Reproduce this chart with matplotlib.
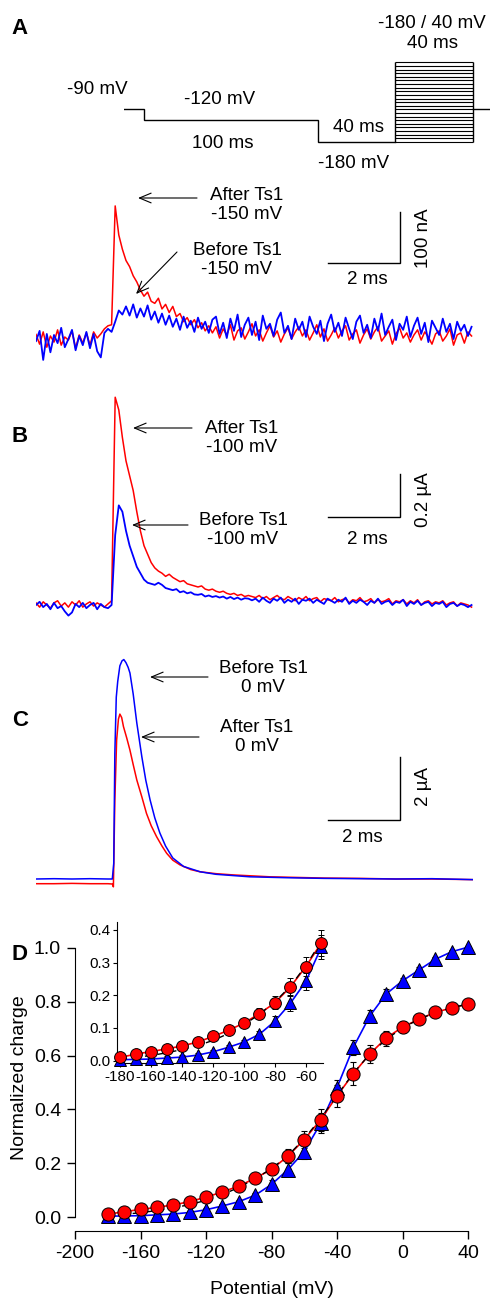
import numpy as np
import matplotlib
matplotlib.use("Agg")
import matplotlib.pyplot as plt

plt.rcParams['font.family'] = ['Liberation Sans', 'DejaVu Sans']
plt.rcParams['axes.unicode_minus'] = False

# ---------------- data ----------------
# Panel A protocol (schematic time units, mV)
proto_t = [0, 11.5, 111.5, 156, 201, 211]
proto_v = [-90, -120, -180]
test_levels = list(range(-180, 41, 10))
hold_v = -90

# Panel A traces (nA), sampled every 0.1 ms
dtA = 0.1
A_after = [5, -14, 10, -20, 2, -10, 14, -16, 0, -6, 12, -22, 4, -12, 8, -16, 10, -2, 6, 16, 22, 24,
           257, 200, 172, 150, 138, 120, 108, 92, 80, 88, 70, 66, 76, 55, 64, 48, 60, 40, 46, 30, 38, 24,
           34, 18, 28, 12, 22, 8,
           20, -2, 16, 4, 24, -6, 12, 18, -4, 10, 26, 2, 14, -8, 8, 22, 0, 12, -10, 6, 18, -4, 10, 20,
           2, 14, -6, 8, 24, 0, 16, -8, 4, 18, -2, 12, 22, -6, 6, 14, -12, 4, 16, -4, 10, 20, -8, 2,
           12, -14, 6, 18, -2, 8, -10, 4, 14, -6, 10, 0, -14, 6, 12, -8, 2, 16, -16, 4, 8, -12, 10, 2]
A_before = [-8, 12, -45, 6, -30, 4, -12, 18, -20, -4, 14, -26, 2, -16, 10, -22, 6, -28, -40, 8, 16, 10,
            30, 52, 44, 60, 42, 64, 38, 56, 40, 62, 34, 50, 28, 46, 24, 42, 20, 36, 14, 40, 18, 32,
            10, 38, 16, 30, 8, 34,
            40, 6, 28, -2, 36, 12, 44, 0, 24, 38, 4, 30, -6, 42, 16, 26, 2, 34, 48, 8, 22, -4, 36, 14,
            30, 0, 40, 20, 6, 32, -8, 26, 44, 10, 28, 2, 38, 16, -4, 30, 42, 8, 24, -2, 36, 12, 46, 4,
            20, 34, -6, 26, 14, 40, 0, 22, 38, 6, 28, -10, 32, 18, 4, 36, 10, 26, -4, 30, 12, 24, 2, 20]

# Panel B traces (uA), sampled every 0.1 ms
dtB = 0.1
B_after = [0.01, -0.01, 0.015, 0.0, -0.015, 0.01, 0.02, -0.005, 0.01, -0.01, 0.015, 0.0, 0.02, -0.01,
           0.005, 0.015, -0.005, 0.01, 0.0, -0.01, 0.005, 0.02,
           0.98, 0.92, 0.79, 0.68, 0.61, 0.54, 0.44, 0.35, 0.28, 0.24, 0.20, 0.175, 0.16, 0.15, 0.135,
           0.145, 0.13, 0.12, 0.11, 0.115, 0.10, 0.095, 0.09, 0.085, 0.09, 0.075, 0.07, 0.075, 0.065,
           0.06, 0.065, 0.055, 0.05, 0.055, 0.045, 0.05, 0.04, 0.045, 0.04,
           0.035, 0.045, 0.03, 0.04, 0.025, 0.035, 0.045, 0.03, 0.025, 0.04, 0.03, 0.02, 0.035, 0.025,
           0.04, 0.02, 0.03, 0.035, 0.015, 0.03, 0.025, 0.02, 0.035, 0.015, 0.025, 0.03, 0.01, 0.025,
           0.02, 0.035, 0.015, 0.02, 0.03, 0.01, 0.025, 0.015, 0.02, 0.03, 0.005, 0.02, 0.015, 0.025,
           0.005, 0.02, 0.01, 0.025, 0.0, 0.015, 0.02, 0.005, 0.015, 0.01, 0.02, 0.0, 0.01, 0.015,
           -0.005, 0.01, 0.005, 0.0, -0.01]
B_before = [0.0, 0.015, -0.01, 0.005, -0.02, 0.01, -0.015, -0.005, -0.03, -0.05, -0.035, 0.005, -0.01,
            0.01, -0.015, 0.0, 0.01, -0.02, 0.005, -0.01, -0.015, 0.0,
            0.33, 0.47, 0.44, 0.35, 0.28, 0.23, 0.18, 0.15, 0.12, 0.105, 0.10, 0.095, 0.105, 0.095, 0.08,
            0.075, 0.07, 0.075, 0.06, 0.065, 0.055, 0.06, 0.05, 0.048, 0.052, 0.04, 0.045, 0.038, 0.042,
            0.035, 0.04, 0.03, 0.038, 0.028, 0.035, 0.025, 0.032, 0.03, 0.022,
            0.03, 0.015, 0.035, 0.02, 0.01, 0.03, 0.02, 0.035, 0.01, 0.025, 0.015, 0.03, 0.005, 0.025,
            0.02, 0.03, 0.01, 0.025, 0.015, 0.005, 0.03, 0.02, 0.01, 0.025, 0.015, 0.035, 0.005, 0.02,
            0.01, 0.025, 0.015, 0.0, 0.02, 0.01, 0.03, 0.005, 0.015, 0.02, 0.0, 0.015, 0.01, 0.025,
            -0.005, 0.015, 0.005, 0.02, 0.0, 0.01, 0.015, -0.005, 0.01, 0.005, 0.015, -0.01, 0.005,
            0.01, -0.005, 0.005, 0.0, -0.01, 0.0]

# Panel C traces (uA)
C_before_t = [0, 0.5, 1.0, 1.5, 2.0, 2.12, 2.16, 2.19, 2.23, 2.27, 2.33, 2.39, 2.44, 2.5, 2.56, 2.61,
              2.7, 2.8, 2.94, 3.05, 3.17, 3.3, 3.44, 3.6, 3.8, 4.1, 4.56, 5.0, 5.94, 7.0, 8.0, 9.0,
              10.0, 11.0, 12.14]
C_before = [0.0, 0.01, 0.0, 0.01, 0.0, 0.0, 0.5, 4.0, 5.8, 6.3, 6.8, 6.96, 7.0, 6.9, 6.75, 6.57,
            5.9, 4.98, 3.9, 3.15, 2.52, 1.95, 1.47, 1.05, 0.67, 0.4, 0.23, 0.15, 0.07, 0.04, 0.02,
            0.01, 0.0, 0.01, -0.02]
C_after_t = [0, 0.5, 1.0, 1.5, 2.0, 2.12, 2.15, 2.19, 2.24, 2.29, 2.33, 2.38, 2.43, 2.52, 2.61, 2.7,
             2.8, 2.94, 3.07, 3.2, 3.35, 3.5, 3.63, 3.8, 4.0, 4.3, 4.56, 5.0, 5.48, 6.5, 8.0, 9.0,
             10.0, 11.0, 12.14]
C_after = [-0.15, -0.15, -0.14, -0.15, -0.15, -0.16, -0.25, 2.5, 4.43, 5.1, 5.26, 5.15, 4.86, 4.5,
           4.11, 3.65, 3.16, 2.62, 2.09, 1.7, 1.35, 1.05, 0.82, 0.6, 0.45, 0.3, 0.23, 0.17, 0.13,
           0.07, 0.03, 0.02, 0.0, 0.0, -0.02]

# Panel D: normalized charge vs potential
potential = list(range(-180, 41, 10))
q_after = [0.010, 0.020, 0.028, 0.036, 0.045, 0.057, 0.074, 0.093, 0.115, 0.144, 0.177, 0.226,
           0.288, 0.361, 0.450, 0.533, 0.606, 0.665, 0.706, 0.735, 0.761, 0.777, 0.791]
q_after_err = [0.006, 0.006, 0.006, 0.006, 0.007, 0.007, 0.008, 0.010, 0.012, 0.018, 0.020, 0.027,
               0.030, 0.040, 0.040, 0.043, 0.034, 0.028, 0.022, 0.015, 0.010, 0.010, 0.008]
q_before = [0.003, 0.004, 0.005, 0.008, 0.011, 0.017, 0.027, 0.041, 0.057, 0.081, 0.121, 0.176,
            0.243, 0.348, 0.481, 0.631, 0.747, 0.829, 0.878, 0.918, 0.958, 0.986, 1.003]
q_before_err = [0.004, 0.004, 0.004, 0.005, 0.005, 0.005, 0.006, 0.006, 0.006, 0.010, 0.017, 0.025,
                0.026, 0.037, 0.030, 0.028, 0.022, 0.018, 0.012, 0.010, 0.008, 0.006, 0.005]
q_fit = [0.005, 0.010, 0.016, 0.024, 0.034, 0.046, 0.062, 0.083, 0.110, 0.142, 0.180, 0.228,
         0.291, 0.366, 0.452, 0.535, 0.605, 0.660, 0.703, 0.735, 0.760, 0.778, 0.792]
inset_max_potential = -50

# ---------------- figure ----------------
W, H = 490, 1303
fig = plt.figure(figsize=(W / 100, H / 100), dpi=100)

RED = '#ff0000'
BLUE = '#0000ff'
FS = 13.5


def px_axes(x0, x1, y0, y1):
    return fig.add_axes([x0 / W, 1 - y1 / H, (x1 - x0) / W, (y1 - y0) / H])


def ftext(x, y, s, **kw):
    kw.setdefault('ha', 'center')
    kw.setdefault('va', 'center')
    kw.setdefault('fontsize', FS)
    fig.text(x / W, 1 - y / H, s, **kw)


def arrow(x0, y0, x1, y1):
    fig.add_artist(matplotlib.patches.FancyArrowPatch(
        (x0 / W, 1 - y0 / H), (x1 / W, 1 - y1 / H), transform=fig.transFigure,
        arrowstyle='->,head_length=0.6,head_width=0.25', mutation_scale=14, lw=0.8,
        color='k', shrinkA=0, shrinkB=0))


# ---- Panel A protocol ----
axP = px_axes(124, 490, 55, 150)
axP.set_xlim(0, 210.7)
axP.set_ylim(-203, 60.8)
axP.axis('off')
step_x = [proto_t[0], proto_t[1], proto_t[1], proto_t[2], proto_t[2], proto_t[3]]
step_y = [proto_v[0], proto_v[0], proto_v[1], proto_v[1], proto_v[2], proto_v[2]]
axP.plot(step_x, step_y, color='k', lw=1.0, solid_joinstyle='miter')
axP.hlines(test_levels, proto_t[3], proto_t[4], color='k', lw=0.8)
axP.vlines([proto_t[3], proto_t[4]], min(test_levels), max(test_levels), color='k', lw=1.0)
axP.plot([proto_t[4], proto_t[5]], [hold_v, hold_v], color='k', lw=1.0)

ftext(20, 28, 'A', fontsize=16, fontweight='bold')
ftext(97, 90, '-90 mV')
ftext(220, 99, '-120 mV')
ftext(223, 143, '100 ms')
ftext(358, 127, '40 ms')
ftext(354, 164, '-180 mV')
ftext(432, 23, '-180 / 40 mV')
ftext(432, 44, '40 ms')


def trace_axes(y0, y1, base, scale):
    ax = px_axes(36, 473, y0, y1)
    ax.set_xlim(0, 12.14)
    ax.set_ylim(-(y1 - base) / scale, (base - y0) / scale)
    ax.axis('off')
    return ax


def scalebar(ax, v0, dv):
    ax.plot([8.11, 10.11, 10.11], [v0, v0, v0 + dv], color='k', lw=1.0, solid_joinstyle='miter')


# ---- Panel A traces ----
axA = trace_axes(190, 380, 337, 0.51)
tA1 = np.arange(len(A_after)) * dtA
tA2 = np.arange(len(A_before)) * dtA
axA.plot(tA1, A_after, color=RED, lw=1.1)
axA.plot(tA2, A_before, color=BLUE, lw=1.3)
scalebar(axA, 145.7, 100)
ftext(367, 280, '2 ms')
ftext(423, 238, '100 nA', rotation=90)
ftext(247, 205, 'After Ts1\n-150 mV', linespacing=1.2)
arrow(197, 198, 138, 198)
ftext(237, 260, 'Before Ts1\n-150 mV', linespacing=1.2)
arrow(177, 252, 136, 294)

# ---- Panel B traces ----
axB = trace_axes(385, 625, 605, 212.0)
tB1 = np.arange(len(B_after)) * dtB
tB2 = np.arange(len(B_before)) * dtB
axB.plot(tB1, B_after, color=RED, lw=1.1)
axB.plot(tB2, B_before, color=BLUE, lw=1.3)
scalebar(axB, 0.4165, 0.2)
ftext(20, 437, 'B', fontsize=16, fontweight='bold')
ftext(367, 540, '2 ms')
ftext(423, 500, '0.2 µA', rotation=90)
ftext(242, 438, 'After Ts1\n-100 mV', linespacing=1.2)
arrow(192, 428, 133, 428)
ftext(243, 530, 'Before Ts1\n-100 mV', linespacing=1.2)
arrow(188, 525, 132, 525)

# ---- Panel C traces ----
axC = trace_axes(645, 895, 879, 31.35)
axC.plot(C_after_t, C_after, color=RED, lw=1.1)
axC.plot(C_before_t, C_before, color=BLUE, lw=1.1)
scalebar(axC, 1.88, 2.0)
ftext(20, 720, 'C', fontsize=16, fontweight='bold')
ftext(362, 837, '2 ms')
ftext(423, 787, '2 µA', rotation=90)
ftext(263, 678, 'Before Ts1\n0 mV', linespacing=1.2)
arrow(208, 677, 150, 677)
ftext(257, 737, 'After Ts1\n0 mV', linespacing=1.2)
arrow(199, 737, 141, 737)


# ---- Panel D ----
def qv_plot(ax, n, ms, cap, elw):
    x = potential[:n]
    ax.errorbar(x, q_before[:n], yerr=q_before_err[:n], fmt='none', ecolor='k',
                elinewidth=elw, capsize=cap, capthick=elw, zorder=2, clip_on=False)
    ax.errorbar(x, q_after[:n], yerr=q_after_err[:n], fmt='none', ecolor='k',
                elinewidth=elw, capsize=cap, capthick=elw, zorder=2, clip_on=False)
    ax.plot(x, q_before[:n], color=BLUE, lw=1.2, zorder=3, clip_on=False)
    ax.plot(x, q_after[:n], color=RED, lw=1.2, zorder=3, clip_on=False)
    ax.plot(x, q_fit[:n], color='k', lw=1.0, ls=(0, (5, 4)), zorder=4, clip_on=False)
    ax.plot(x, q_before[:n], ls='none', marker='^', ms=ms, mfc=BLUE, mec='k', mew=0.7,
            zorder=5, clip_on=False)
    ax.plot(x, q_after[:n], ls='none', marker='o', ms=ms, mfc=RED, mec='k', mew=0.7,
            zorder=6, clip_on=False)


axD = px_axes(75, 468, 948, 1231)
axD.set_xlim(-200, 40)
axD.set_ylim(-0.052, 1.0)
axD.patch.set_alpha(0)
qv_plot(axD, len(potential), 9.5, 2.5, 0.8)
for s in ['top', 'right']:
    axD.spines[s].set_visible(False)
axD.spines['left'].set_bounds(0, 1.0)
axD.spines['bottom'].set_bounds(-200, 40)
axD.set_xticks([-200, -160, -120, -80, -40, 0, 40])
axD.set_yticks([0, 0.2, 0.4, 0.6, 0.8, 1.0])
axD.set_yticklabels(['0.0', '0.2', '0.4', '0.6', '0.8', '1.0'])
axD.tick_params(direction='out', length=6, width=1, labelsize=14, pad=4)
axD.set_xlabel('Potential (mV)', fontsize=14, labelpad=14)
ftext(19, 1078, 'Normalized charge', fontsize=14, rotation=90)
ftext(19, 955, 'D', fontsize=16, fontweight='bold')

axI = px_axes(117, 323, 921.7, 1063.3)
axI.set_xlim(-182, -49)
axI.set_ylim(-0.008, 0.425)
axI.patch.set_alpha(0)
n_inset = potential.index(inset_max_potential) + 1
qv_plot(axI, n_inset, 8.5, 2.0, 0.7)
for s in ['top', 'right']:
    axI.spines[s].set_visible(False)
axI.set_xticks([-180, -160, -140, -120, -100, -80, -60])
axI.set_yticks([0, 0.1, 0.2, 0.3, 0.4])
axI.set_yticklabels(['0.0', '0.1', '0.2', '0.3', '0.4'])
axI.tick_params(direction='out', length=3, width=0.8, labelsize=11, pad=2)
for s in ['left', 'bottom']:
    axI.spines[s].set_linewidth(0.8)

fig.savefig('out.png', dpi=100)
